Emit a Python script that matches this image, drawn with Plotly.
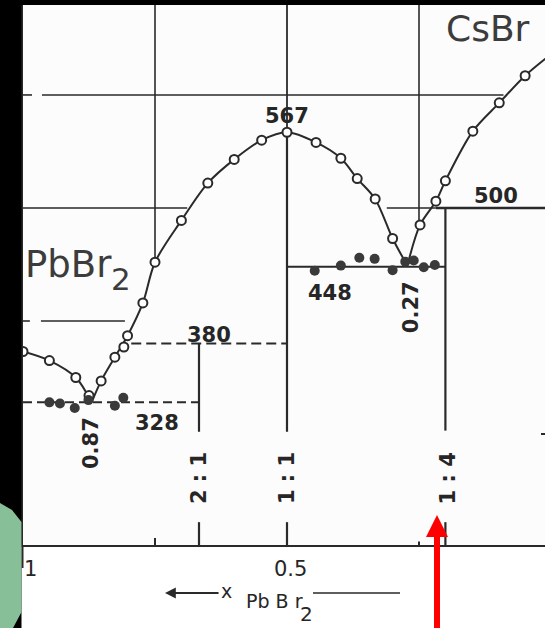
import plotly.graph_objects as go

# ---------------- data ----------------
# liquidus measurements (open circles): mole fraction PbBr2, temperature
liq_x = [1.00, 0.95, 0.90, 0.875, 0.852, 0.826, 0.809, 0.802, 0.773, 0.75, 0.70,
         0.65, 0.60, 0.548, 0.50, 0.445, 0.398, 0.367, 0.333, 0.30,
         0.248, 0.218, 0.20, 0.148, 0.098, 0.049]
liq_T = [373, 365, 350, 334, 347, 368, 377, 387, 416, 452, 489,
         522, 543, 560, 567, 558, 544, 526, 508, 473,
         485, 506, 524, 568, 593, 617]

# solidus (eutectic arrests, filled circles)
sol_a_x = [0.95, 0.93, 0.902, 0.876, 0.826, 0.81]
sol_a_T = [328, 327, 323, 330, 325, 332]
sol_b_x = [0.4475, 0.398, 0.363, 0.334, 0.30, 0.276, 0.26, 0.241, 0.22]
sol_b_T = [444.5, 449, 456, 455, 445, 452.5, 453.5, 447.5, 449.5]

# liquidus curve branches
curve_pb_x = [1.0, 0.95, 0.90, 0.87]
curve_pb_T = [373, 365, 350, 328]
curve_mid_x = [0.87, 0.852, 0.826, 0.802, 0.773, 0.75, 0.70, 0.65, 0.60, 0.548,
               0.50, 0.445, 0.398, 0.367, 0.333, 0.30, 0.272]
curve_mid_T = [328, 347, 368, 387, 416, 452, 489, 522, 543, 560,
               567, 558, 544, 526, 508, 473, 449]
curve_cs_x = [0.272, 0.248, 0.218, 0.20, 0.148, 0.098, 0.049, 0.0]
curve_cs_T = [449, 485, 506, 524, 568, 593, 617, 636]

# invariant temperatures / compositions
eutectic_T = [328, 448]
eutectic_x = [0.87, 0.27]
peritectic_T = [380, 500]
congruent_T = [567]
compound_x = [2 / 3, 0.5, 0.2]
compound_labels = ["2 : 1", "1 : 1", "1 : 4"]
grid_T = [400, 500, 600]
grid_x = [0.75, 0.5, 0.25]
tick_vals = [1, 0.5, 0]
tick_text = ["1", "0.5", "0"]

# ---------------- figure geometry ----------------
W, H = 545, 628
ML, MR, MT, MB = 23, 0, 5, 83
X_RANGE = [1.0, 0.01136]
Y_RANGE = [201.8, 679.6]
T_TOP, T_BOT = Y_RANGE[1], Y_RANGE[0]

INK = "#2a2a2a"
FONT = "DejaVu Sans"


def pxx(px):
    return (px - ML) / (W - ML - MR)


def pxy(py):
    return (H - MB - py) / (H - MB - MT)


fig = go.Figure()

# liquidus curves
for cx, cT in [(curve_pb_x, curve_pb_T), (curve_mid_x, curve_mid_T), (curve_cs_x, curve_cs_T)]:
    fig.add_trace(go.Scatter(x=cx, y=cT, mode="lines",
                             line=dict(color=INK, width=2, shape="spline", smoothing=0.9),
                             hoverinfo="skip"))

shapes = []


def seg(x0, x1, T0, T1, width=2.0, dash="solid"):
    shapes.append(dict(type="line", xref="x", yref="y", x0=x0, x1=x1, y0=T0, y1=T1,
                       line=dict(color=INK, width=width, dash=dash), layer="below"))


# grid lines (only in the liquid region)
seg(1.0, 0.983, grid_T[2], grid_T[2], 1.6)
seg(0.964, 0.09, grid_T[2], grid_T[2], 1.6)
seg(1.0, 0.689, grid_T[1], grid_T[1], 1.6)
seg(0.311, 0.218, grid_T[1], grid_T[1], 1.6)
seg(1.0, 0.987, grid_T[0], grid_T[0], 1.6)
seg(0.966, 0.807, grid_T[0], grid_T[0], 1.6)
seg(grid_x[0], grid_x[0], T_TOP, 452, 1.6)
seg(grid_x[2], grid_x[2], T_TOP, 486, 1.6)
seg(grid_x[1], grid_x[1], T_TOP, congruent_T[0], 1.8)

# invariant lines
seg(1.0, compound_x[0], eutectic_T[0], eutectic_T[0], 2.0, "9px,5px")
seg(0.795, compound_x[1], peritectic_T[0], peritectic_T[0], 2.0, "10px,5px")
seg(compound_x[1], compound_x[2], eutectic_T[1], eutectic_T[1], 2.2)
seg(0.218, X_RANGE[1], peritectic_T[1], peritectic_T[1], 2.4)

# compound vertical lines and their long ticks
seg(compound_x[0], compound_x[0], peritectic_T[0], 302, 2.2)
seg(compound_x[1], compound_x[1], congruent_T[0], 302, 2.2)
seg(compound_x[2], compound_x[2], peritectic_T[1], 303, 2.2)
for cx in compound_x:
    seg(cx, cx, 222, T_BOT, 2.2)
# minor ticks on x axis and right-side tick
seg(0.75, 0.75, 208, T_BOT, 2.0)
seg(0.25, 0.25, 205, T_BOT, 2.0)
seg(0.019, X_RANGE[1], 300, 300, 2.0)

# measurements
fig.add_trace(go.Scatter(x=liq_x, y=liq_T, mode="markers",
                         marker=dict(symbol="circle", size=9, color="white",
                                     line=dict(color=INK, width=2)),
                         hoverinfo="skip"))
fig.add_trace(go.Scatter(x=sol_a_x + sol_b_x, y=sol_a_T + sol_b_T, mode="markers",
                         marker=dict(symbol="circle", size=10, color="#3a3a3a",
                                     line=dict(color="#3a3a3a", width=0)),
                         hoverinfo="skip"))

# left axis extension below the frame
shapes.append(dict(type="line", xref="paper", yref="paper", x0=pxx(22.5), x1=pxx(22.5),
                   y0=pxy(568), y1=pxy(545), line=dict(color=INK, width=2)))
# axis-title line
shapes.append(dict(type="line", xref="paper", yref="paper", x0=pxx(313), x1=pxx(400),
                   y0=pxy(593), y1=pxy(593), line=dict(color=INK, width=1.6)))

# scan edges: black band left and top, green blob lower-left
shapes.append(dict(type="rect", xref="paper", yref="paper", x0=pxx(0), x1=pxx(21.5),
                   y0=pxy(628), y1=pxy(0), fillcolor="black", line=dict(width=0)))
shapes.append(dict(type="path", xref="paper", yref="paper",
                   path=f"M {pxx(0)},{pxy(503)} L {pxx(12)},{pxy(510)} L {pxx(21.5)},{pxy(522)} "
                        f"L {pxx(21.5)},{pxy(612)} L {pxx(13)},{pxy(628)} L {pxx(0)},{pxy(628)} Z",
                   fillcolor="#86bf98", line=dict(width=0)))
shapes.append(dict(type="rect", xref="paper", yref="paper", x0=pxx(0), x1=pxx(W),
                   y0=pxy(5), y1=pxy(0), fillcolor="black", line=dict(width=0)))

# red arrow
shapes.append(dict(type="rect", xref="paper", yref="paper", x0=pxx(434), x1=pxx(440),
                   y0=pxy(628), y1=pxy(535), fillcolor="#ff0000", line=dict(width=0)))
shapes.append(dict(type="path", xref="paper", yref="paper",
                   path=f"M {pxx(426)},{pxy(537)} L {pxx(448)},{pxy(537)} L {pxx(437)},{pxy(515)} Z",
                   fillcolor="#ff0000", line=dict(width=0)))

ann = []


def label(text, x, y, size=21, xs=0, ys=0, angle=0, color="#262626", xref="x", yref="y",
          xanchor="center", weight="bold"):
    ann.append(dict(text=text, x=x, y=y, xref=xref, yref=yref, xshift=xs, yshift=ys,
                    textangle=angle, showarrow=False, xanchor=xanchor, yanchor="middle",
                    font=dict(family=FONT, size=size, color=color, weight=weight)))


label(str(congruent_T[0]), compound_x[1], congruent_T[0], ys=16)
label(str(peritectic_T[1]), 0.105, peritectic_T[1], ys=12)
label(str(eutectic_T[1]), 0.4186, eutectic_T[1], ys=-26)
label(f"{eutectic_x[1]:.2f}", eutectic_x[1], eutectic_T[1], ys=-40, xs=2, angle=-90)
label(str(peritectic_T[0]), 0.648, peritectic_T[0], ys=9)
label(str(eutectic_T[0]), 0.746, eutectic_T[0], ys=-21)
label(f"{eutectic_x[0]:.2f}", eutectic_x[0], eutectic_T[0], ys=-41, angle=-90)
for cx, lab in zip(compound_x, compound_labels):
    label(lab, cx, 261, angle=-90, xs=(3 if cx == compound_x[2] else 0))

# component names
label("CsBr", 0.119, 658.4, size=36, color="#3c3c3c", weight="normal")
label("PbBr", 1.0, 449.6, size=37, color="#3c3c3c", xanchor="left", weight="normal")
label("2", 0.815, 437.0, size=31, color="#3c3c3c", weight="normal")

# tick labels
for tv, tt in zip(tick_vals, tick_text):
    xs = 7 if tv == 1 else (3 if tv == 0.5 else -11)
    label(tt, tv, pxy(569), size=21, xs=xs, yref="paper", weight="normal")

# axis title with arrow
ann.append(dict(text="", x=0.731, y=pxy(593), xref="x", yref="paper", ax=55, ay=0,
                axref="pixel", ayref="pixel", showarrow=True, arrowhead=2, arrowsize=1.2,
                arrowwidth=1.8, arrowcolor=INK))
label("x", 0.6155, pxy(591), size=19, yref="paper", weight="normal")
label("Pb B r", 0.582, pxy(601), size=19, yref="paper", xanchor="left", weight="normal")
label("2", 0.464, pxy(614), size=20, yref="paper", weight="normal")

fig.update_layout(
    width=W, height=H, autosize=False,
    margin=dict(l=ML, r=MR, t=MT, b=MB, pad=0),
    paper_bgcolor="white", plot_bgcolor="#fcfcfc",
    showlegend=False,
    xaxis=dict(range=X_RANGE, showgrid=False, zeroline=False, showticklabels=False,
               ticks="", showline=True, linecolor=INK, linewidth=2, fixedrange=True),
    yaxis=dict(range=Y_RANGE, showgrid=False, zeroline=False, showticklabels=False,
               ticks="", showline=True, linecolor=INK, linewidth=2, fixedrange=True),
    shapes=shapes, annotations=ann,
)

fig.write_html("out.html", config={"displayModeBar": False, "staticPlot": True},
               post_script="document.body.style.margin='0';document.body.style.overflow='hidden';")
